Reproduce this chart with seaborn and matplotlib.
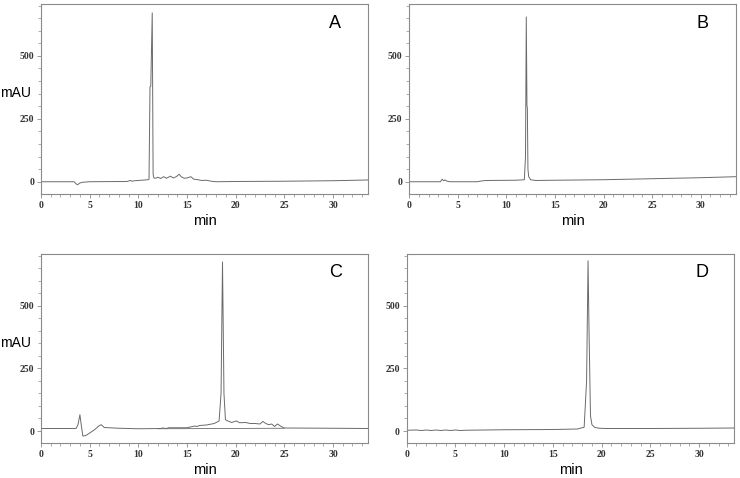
import pandas as pd
import matplotlib.pyplot as plt
import seaborn as sns
from matplotlib.ticker import MultipleLocator

# chromatogram traces (time in min, absorbance in mAU)
a_time = [0, 3.4, 3.6, 3.75, 4.0, 4.3, 5, 8.8, 9.2, 9.35, 9.6, 10, 11.0, 11.1,
          11.2, 11.28, 11.43, 11.52, 11.6, 11.8, 12.0, 12.3, 12.6, 12.9, 13.3,
          13.6, 13.9, 14.2, 14.4, 14.7, 15.0, 15.4, 15.7, 16.0, 16.5, 17.0,
          17.5, 18.0, 20, 25, 30, 33.6]
a_mau = [0, 0, -8, -12, -5, -2, 0, 1, 5, 2, 4, 5, 8, 10,
         377, 380, 671, 30, 15, 14, 18, 13, 20, 14, 22,
         15, 20, 30, 20, 14, 15, 20, 10, 9, 5, 6,
         2, 0, 1, 2, 4, 7]

b_time = [0, 3.2, 3.4, 3.55, 3.7, 3.9, 4.2, 7.0, 7.6, 8, 11.0, 11.85, 11.97,
          12.05, 12.12, 12.16, 12.22, 12.3, 12.5, 13, 15, 20, 25, 30, 33.6]
b_mau = [0, 0, 10, 4, 7, 2, 0, 0, 4, 5, 6, 8, 100,
         655, 300, 295, 50, 20, 8, 5, 6, 8, 12, 16, 20]

c_time = [0, 3.6, 3.8, 4.0, 4.15, 4.3, 4.6, 5.0, 5.5, 6.0, 6.2, 6.5, 8, 10,
          12.3, 12.5, 12.9, 13.1, 15, 15.8, 16.0, 16.3, 17, 17.8, 18.3, 18.5,
          18.65, 18.8, 18.95, 19.2, 19.6, 19.9, 20.1, 20.4, 21.0, 21.5, 22.0,
          22.5, 22.8, 23.1, 23.4, 23.7, 24.0, 24.3, 24.6, 25.0, 30, 33.6]
c_mau = [10, 10, 25, 65, 20, -20, -18, -8, 5, 22, 25, 14, 11, 9,
         10, 12, 10, 13, 13, 20, 18, 22, 24, 30, 40, 150,
         674, 150, 45, 40, 34, 38, 40, 33, 34, 30, 30,
         28, 38, 30, 25, 28, 18, 28, 20, 12, 11, 10]
c_base_time = [12, 25]
c_base_mau = [9, 11]

d_time = [0, 1, 1.5, 2, 2.5, 3, 3.5, 4, 4.5, 5, 5.5, 6, 10, 15, 17.5, 18.2,
          18.45, 18.6, 18.7, 18.85, 19.0, 19.3, 19.8, 20.5, 25, 30, 33.6]
d_mau = [3, 4, 2, 4, 2, 4, 2, 4, 2, 4, 2, 3, 5, 6, 8, 15,
         200, 679, 400, 60, 25, 14, 11, 10, 10, 11, 12]

panels = [
    ("A", a_time, a_mau, [0.0554, 0.594, 0.4419, 0.3975], True),
    ("B", b_time, b_mau, [0.5530, 0.594, 0.4411, 0.3975], False),
    ("C", c_time, c_mau, [0.0554, 0.0726, 0.4419, 0.3960], True),
    ("D", d_time, d_mau, [0.5496, 0.0726, 0.4427, 0.3960], False),
]

sns.set_style("ticks")
plt.rcParams['font.family'] = ['Liberation Sans', 'DejaVu Sans']

fig = plt.figure(figsize=(7.4, 4.78), dpi=100)
line_color = '#6a6a6a'
frame_color = '#8a8a8a'

for letter, t, y, rect, show_mau in panels:
    ax = fig.add_axes(rect)
    df = pd.DataFrame({'min': t, 'mAU': y})
    sns.lineplot(data=df, x='min', y='mAU', ax=ax, color=line_color,
                 linewidth=0.7, sort=False)
    if letter == "C":
        base = pd.DataFrame({'min': c_base_time, 'mAU': c_base_mau})
        sns.lineplot(data=base, x='min', y='mAU', ax=ax, color=line_color,
                     linewidth=0.6)
    ax.set_xlim(0, 33.6)
    ax.set_ylim(-49, 706)
    ax.xaxis.set_major_locator(MultipleLocator(5))
    ax.xaxis.set_minor_locator(MultipleLocator(1))
    ax.yaxis.set_major_locator(MultipleLocator(250))
    ax.yaxis.set_minor_locator(MultipleLocator(50))
    ax.tick_params(which='major', length=3, width=0.6, color=frame_color,
                   pad=2, labelsize=7)
    ax.tick_params(which='minor', length=2, width=0.5, color=frame_color)
    for lab in ax.get_xticklabels() + ax.get_yticklabels():
        lab.set_family('Liberation Serif')
        lab.set_fontweight('bold')
        lab.set_color('#333333')
    for sp in ax.spines.values():
        sp.set_color(frame_color)
        sp.set_linewidth(0.8)
    ax.set_xlabel('min', fontsize=10.5, labelpad=3, color='black')
    ax.set_ylabel('')
    if show_mau:
        ax.text(-0.125, 0.53, 'mAU', transform=ax.transAxes, fontsize=10,
                ha='left', va='center', color='black')
    ax.text(0.9, 0.9, letter, transform=ax.transAxes, fontsize=13,
            ha='center', va='center', color='black')

fig.savefig('out.png', dpi=100)
